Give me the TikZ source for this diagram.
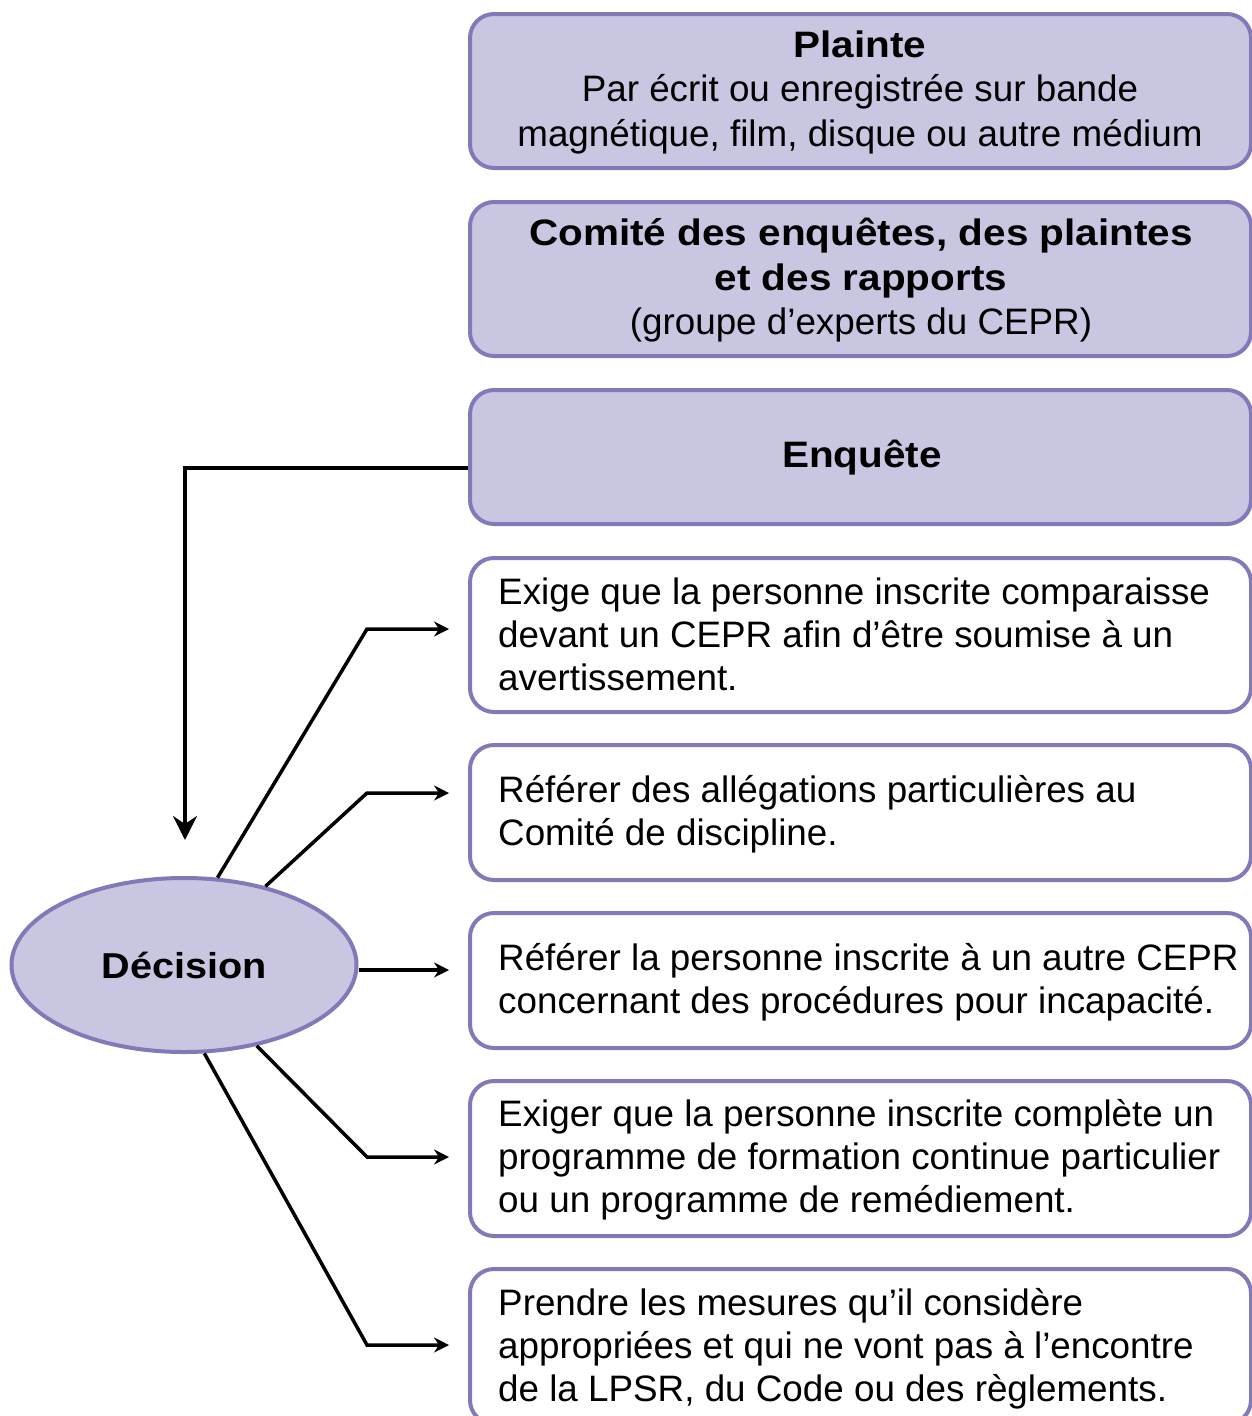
\documentclass[tikz,border=0pt]{standalone}
\usepackage{fontspec}
\setmainfont{Liberation Sans}[BoldFeatures={FakeStretch=1.1}]
\usetikzlibrary{arrows.meta,shapes.geometric}
\definecolor{pborder}{RGB}{130,122,184}
\definecolor{pfill}{RGB}{201,198,225}
\begin{document}
\begin{tikzpicture}[x=1pt,y=-1pt,
  box/.style={draw=pborder,line width=4pt,rounded corners=24pt,anchor=north west,minimum width=781pt,inner sep=0pt},
  fbox/.style={box,fill=pfill},
  wbox/.style={box,fill=white},
  ctxt/.style={align=center,font=\fontsize{36.8}{44.5}\selectfont,inner sep=0pt},
  ltxt/.style={align=left,font=\fontsize{36.8}{43}\selectfont,inner sep=0pt,anchor=west},
  conn/.style={line width=3.5pt,-{Stealth[length=15pt,width=15pt,inset=5pt]}},
  connD/.style={line width=3.5pt,-{Stealth[length=24pt,width=24pt,inset=8pt]}}]
\useasboundingbox (0,0) rectangle (1251,1416);
% top boxes
\node[fbox,minimum height=154pt] (pl) at (468,12) {};
\node[ctxt] (plt) at (860,92) {\textbf{Plainte}\\Par écrit ou enregistrée sur bande\\magnétique, film, disque ou autre médium};
\node[fbox,minimum height=154pt] (co) at (468,200) {};
\node[ctxt] (cot) at (861,280.5) {\textbf{Comité des enquêtes, des plaintes}\\\textbf{et des rapports}\\(groupe d’experts du CEPR)};
\node[fbox,minimum height=134pt] (enq) at (468,388) {};
\node[ctxt] (enqt) at (862,458) {\textbf{Enquête}};
% option boxes
\node[wbox,minimum height=154pt] (b1) at (468,556) {};
\node[ltxt] (b1t) at (498,634) {Exige que la personne inscrite comparaisse\\devant un CEPR afin d’être soumise à un\\avertissement.};
\node[wbox,minimum height=135pt] (b2) at (468,743) {};
\node[ltxt] (b2t) at (498,814) {Référer des allégations particulières au\\Comité de discipline.};
\node[wbox,minimum height=135pt] (b3) at (468,911) {};
\node[ltxt] (b3t) at (498,982) {Référer la personne inscrite à un autre CEPR\\concernant des procédures pour incapacité.};
\node[wbox,minimum height=155pt] (b4) at (468,1079) {};
\node[ltxt] (b4t) at (498,1160) {Exiger que la personne inscrite complète un\\programme de formation continue particulier\\ou un programme de remédiement.};
\node[wbox,minimum height=155pt] (b5) at (468,1267) {};
\node[ltxt] (b5t) at (498,1349) {Prendre les mesures qu’il considère\\appropriées et qui ne vont pas à l’encontre\\de la LPSR, du Code ou des règlements.};
% decision
\node[ellipse,draw=pborder,fill=pfill,line width=4pt,minimum width=345pt,minimum height=174pt,inner sep=0pt] (dec) at (184,965) {\fontsize{36}{43}\selectfont\textbf{Décision}};
% coordinates
\coordinate (tD) at (185,840);
\coordinate (a1) at (449,629);
\coordinate (a2) at (449,793);
\coordinate (a3) at (449,970);
\coordinate (a4) at (449,1157);
\coordinate (a5) at (449,1345);
% connectors
\draw[connD] ([yshift=-11pt]enq.west) -| (tD);
\draw[conn] (dec.69) -- (367,629) -- (a1);
\draw[conn] (dec.44) -- (367,793) -- (a2);
\draw[conn] (dec.east |- a3) -- (a3);
\draw[conn] (dec.-48) -- (367,1157) -- (a4);
\draw[conn] (dec.-77) -- (367,1345) -- (a5);
\end{tikzpicture}
\end{document}
